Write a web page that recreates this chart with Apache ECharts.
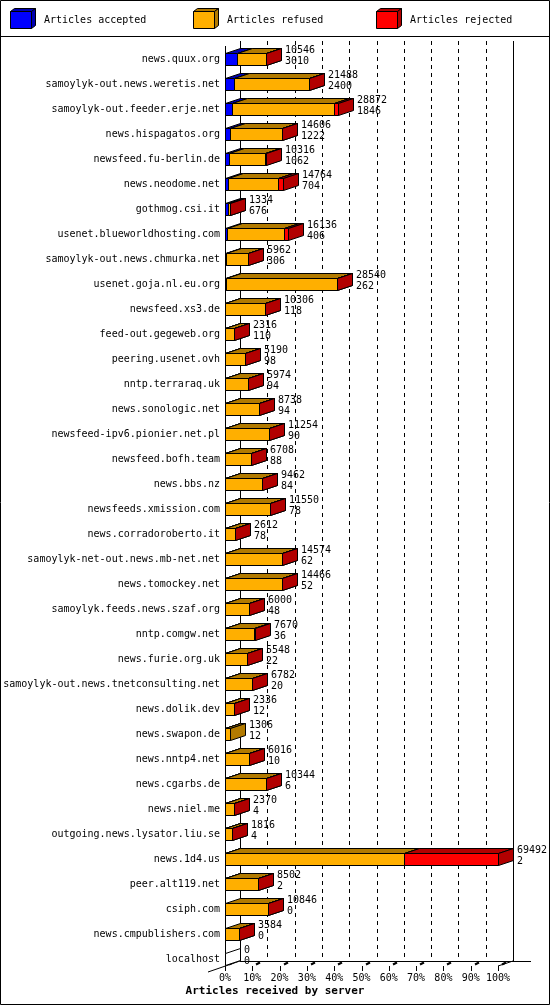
<!DOCTYPE html>
<html><head><meta charset="utf-8">
<script src="https://cdn.jsdelivr.net/npm/echarts@6/dist/echarts.min.js"></script>
<style>html,body{margin:0;padding:0;background:#fff}#c{width:550px;height:1005px}</style>
</head><body><div id="c"></div>
<script>
const categories = ["news.quux.org","samoylyk-out.news.weretis.net","samoylyk-out.feeder.erje.net","news.hispagatos.org","newsfeed.fu-berlin.de","news.neodome.net","gothmog.csi.it","usenet.blueworldhosting.com","samoylyk-out.news.chmurka.net","usenet.goja.nl.eu.org","newsfeed.xs3.de","feed-out.gegeweb.org","peering.usenet.ovh","nntp.terraraq.uk","news.sonologic.net","newsfeed-ipv6.pionier.net.pl","newsfeed.bofh.team","news.bbs.nz","newsfeeds.xmission.com","news.corradoroberto.it","samoylyk-net-out.news.mb-net.net","news.tomockey.net","samoylyk.feeds.news.szaf.org","nntp.comgw.net","news.furie.org.uk","samoylyk-out.news.tnetconsulting.net","news.dolik.dev","news.swapon.de","news.nntp4.net","news.cgarbs.de","news.niel.me","outgoing.news.lysator.liu.se","news.1d4.us","peer.alt119.net","csiph.com","news.cmpublishers.com","localhost"];
const offered  = [10546,21488,28872,14606,10316,14764,1334,16136,5962,28540,10306,2316,5190,5974,8738,11254,6708,9462,11550,2612,14574,14466,6000,7670,5548,6782,2336,1306,6016,10344,2370,1816,69492,8502,10846,3584,0];
const accepted = [3010,2400,1846,1222,1062,704,676,406,306,262,118,110,98,94,94,90,88,84,78,78,62,52,48,36,22,20,12,12,10,6,4,4,2,2,0,0,0];
const refused  = [7496,19038,25926,13354,9224,12760,638,14530,5636,28248,10168,2196,5082,5870,8494,11144,6470,9358,11452,2524,14492,14394,5942,7284,5516,6752,2244,1294,5996,10328,2356,1802,45640,8490,10836,3574,0];
const rejected = [40,50,1100,30,30,1300,20,1200,20,30,20,10,10,10,150,20,150,20,20,10,20,20,10,350,10,10,80,0,10,10,10,10,23850,10,10,10,0];
const tickPercents = [0,10,20,30,40,50,60,70,80,90,100];
const seriesNames = ["Articles accepted","Articles refused","Articles rejected"];

const FONT = "DejaVu Sans Mono";
const COLORS = ["#0000FF","#FFAF00","#FF0000"];
const DARK = ["#0000B2","#B27A00","#B20000"];
const DX = 15, DY = -5;
const xMax = Math.max(...offered);

const barData = categories.map((c,i)=>[accepted[i],refused[i],rejected[i],offered[i],i]);

function renderBars(params, api){
  const idx = api.value(4);
  const vals = [api.value(0), api.value(1), api.value(2)];
  const total = api.value(3);
  const acc = api.value(0);
  const c0 = api.coord([0, idx]);
  const cy = Math.round(c0[1]);
  const yT = cy - 6 + 0.5, yB = cy + 6 + 0.5;
  const children = [];
  let cum = 0;
  let xEnd = Math.round(c0[0]) + 0.5;
  for (let k = 0; k < 3; k++){
    const v = vals[k];
    if (!(v > 0)) continue;
    const xa = Math.round(api.coord([cum, idx])[0]) + 0.5;
    cum += v;
    const xb = Math.round(api.coord([cum, idx])[0]) + 0.5;
    const st = {stroke:"#000", lineWidth:1};
    children.push({type:"polygon", shape:{points:[[xa,yT],[xa+DX,yT+DY],[xb+DX,yT+DY],[xb,yT]]}, style:Object.assign({fill:DARK[k]},st)});
    children.push({type:"polygon", shape:{points:[[xb,yT],[xb+DX,yT+DY],[xb+DX,yB+DY],[xb,yB]]}, style:Object.assign({fill:DARK[k]},st)});
    children.push({type:"polygon", shape:{points:[[xa,yT],[xb,yT],[xb,yB],[xa,yB]]}, style:Object.assign({fill:COLORS[k]},st)});
    xEnd = xb;
  }
  if (total <= 0){
    children.push({type:"polygon", shape:{points:[[xEnd,yT],[xEnd+DX,yT+DY],[xEnd+DX,yB+DY],[xEnd,yB]]}, style:{fill:"#fff", stroke:"#000", lineWidth:1}});
  }
  children.push({type:"text", x: Math.round(xEnd + DX + 3), y: cy - 14,
    style:{text: total + "\n" + acc, fill:"#000", fontFamily:FONT, fontSize:10, lineHeight:11, verticalAlign:"top", align:"left"}});
  return {type:"group", children};
}

function renderFrame(params, api){
  if (params.dataIndex !== 0) return;
  const n = categories.length;
  const first = api.coord([0, 0]);
  const last = api.coord([xMax, n - 1]);
  const x0 = Math.round(first[0]);
  const x100 = Math.round(last[0]);
  const topFront = Math.round(first[1]) - 13;
  const floorFront = Math.round(last[1]) + 7;
  const topBack = topFront + DY;
  const floorBack = floorFront + DY;
  const ls = {stroke:"#000", lineWidth:1};
  const ch = [];
  const line = (a,b,c,d,extra)=>ch.push({type:"line", shape:{x1:a,y1:b,x2:c,y2:d}, style:Object.assign({},ls,extra||{})});
  line(x0+0.5, topFront, x0+0.5, floorFront);
  line(x0+DX+0.5, topBack, x0+DX+0.5, floorBack);
  line(x100+DX+0.5, topBack, x100+DX+0.5, floorBack);
  line(x0+DX, floorBack+0.5, x100+DX+18, floorBack+0.5);
  line(x0-17, floorFront+6, x0+DX, floorBack);
  line(x100, floorFront, x100+DX, floorBack);
  tickPercents.forEach(p=>{
    const xk = Math.round(api.coord([xMax*p/100, n-1])[0]);
    if (p > 0 && p < 100) line(xk+DX+0.5, topBack, xk+DX+0.5, floorBack, {lineDash:[4,4]});
    line(xk+0.5, floorFront, xk+0.5, floorFront+5);
    line(xk+4, floorFront-1.5, xk+8, floorFront-3.5, {lineWidth:2});
  });
  return {type:"group", children:ch};
}

function legendItem(x, k){
  const fx = x, fy = 11, w = 21, h = 17, d = 4, dy = -3;
  return [
    {type:"polygon", shape:{points:[[fx+0.5,fy+0.5],[fx+d+0.5,fy+dy+0.5],[fx+w+d+0.5,fy+dy+0.5],[fx+w+0.5,fy+0.5]]}, style:{fill:DARK[k], stroke:"#000"}},
    {type:"polygon", shape:{points:[[fx+w+0.5,fy+0.5],[fx+w+d+0.5,fy+dy+0.5],[fx+w+d+0.5,fy+h+dy+0.5],[fx+w+0.5,fy+h+0.5]]}, style:{fill:DARK[k], stroke:"#000"}},
    {type:"rect", shape:{x:fx+0.5,y:fy+0.5,width:w,height:h}, style:{fill:COLORS[k], stroke:"#000"}},
    {type:"text", x: x+34, y: 20, style:{text: seriesNames[k], fontFamily:FONT, fontSize:10, fill:"#000", verticalAlign:"middle"}}
  ];
}

const chart = echarts.init(document.getElementById("c"), null, {renderer:"canvas"});
chart.setOption({
  animation:false,
  backgroundColor:"#fff",
  title:{text:"Articles received by server", left:"center", top:986, padding:0,
    textStyle:{fontFamily:FONT, fontSize:11, fontWeight:"bold", color:"#000"}},
  grid:{left:225, right:52, top:46.5, bottom:33.5, containLabel:false},
  xAxis:{type:"value", min:0, max:xMax, interval:xMax/10,
    axisLine:{show:false}, axisTick:{show:false}, splitLine:{show:false},
    axisLabel:{margin:2, fontFamily:FONT, fontSize:10, color:"#000",
      formatter:(v)=>Math.round(v/xMax*100)+"%"}},
  yAxis:{type:"category", data:categories, inverse:true,
    axisLine:{show:false}, axisTick:{show:false}, splitLine:{show:false},
    axisLabel:{margin:5, fontFamily:FONT, fontSize:10, color:"#000", interval:0}},
  graphic:[
    {type:"rect", shape:{x:0.5,y:0.5,width:549,height:1004}, style:{fill:"none", stroke:"#000", lineWidth:1}, z:10},
    {type:"line", shape:{x1:0,y1:36.5,x2:550,y2:36.5}, style:{stroke:"#000", lineWidth:1}},
    ...legendItem(10,0), ...legendItem(193,1), ...legendItem(376,2)
  ],
  series:[
    {type:"custom", name:"frame", data:[[0,0]], encode:{x:0,y:1}, renderItem:renderFrame, z:1, clip:false, silent:true},
    {type:"custom", name:"bars", data:barData, encode:{x:3,y:4}, renderItem:renderBars, z:2, clip:false, silent:true}
  ]
});
</script></body></html>
